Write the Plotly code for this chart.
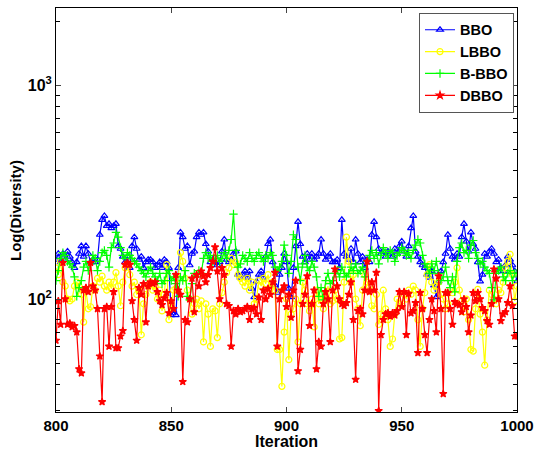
import plotly.graph_objects as go

iterations = list(range(800, 1001))

bbo = [
    153, 163, 149, 163, 153, 167, 158, 149, 140, 149,
    163, 177, 158, 177, 163, 149, 153, 149, 153, 200,
    235, 245, 220, 225, 215, 220, 225, 177, 172, 158,
    149, 158, 140, 177, 195, 172, 153, 158, 140, 149,
    153, 153, 149, 140, 144, 149, 140, 153, 149, 140,
    84, 88, 84, 140, 205, 195, 172, 177, 144, 163,
    167, 195, 205, 200, 205, 181, 167, 149, 153, 149,
    144, 149, 167, 190, 153, 149, 153, 163, 167, 130,
    126, 130, 135, 126, 135, 112, 102, 121, 130, 135,
    126, 158, 181, 190, 149, 116, 107, 130, 140, 163,
    149, 112, 102, 140, 177, 230, 181, 158, 149, 163,
    153, 163, 153, 158, 163, 190, 163, 153, 158, 163,
    149, 149, 153, 140, 235, 163, 158, 153, 172, 149,
    190, 163, 149, 158, 140, 153, 149, 200, 230, 195,
    172, 163, 167, 158, 167, 163, 158, 172, 163, 177,
    186, 167, 158, 177, 215, 245, 167, 158, 149, 144,
    140, 130, 126, 135, 116, 102, 121, 135, 149, 163,
    200, 172, 158, 153, 163, 158, 195, 225, 186, 167,
    205, 181, 172, 149, 121, 130, 163, 158, 167, 172,
    163, 149, 153, 140, 135, 144, 158, 153, 144, 135,
    121,
]

lbbo = [
    140, 130, 150, 120, 115, 100, 98, 100, 115, 120,
    115, 105, 78, 110, 90, 92, 115, 110, 125, 120,
    128, 115, 110, 120, 112, 120, 133, 115, 93, 120,
    140, 145, 130, 115, 120, 105, 110, 68, 95, 105,
    115, 120, 110, 115, 100, 110, 88, 105, 145, 80,
    95, 110, 112, 125, 165, 150, 125, 110, 100, 85,
    95, 100, 90, 98, 63, 95, 85, 60, 90, 88,
    66, 95, 107, 120, 133, 140, 155, 145, 148, 130,
    125, 120, 115, 125, 110, 120, 95, 100, 122, 115,
    125, 118, 130, 112, 120, 110, 58, 58, 39, 70,
    100, 52, 85, 90, 100, 63, 95, 120, 110, 95,
    88, 100, 74, 110, 95, 105, 90, 100, 115, 95,
    98, 110, 100, 65, 66, 120, 195, 150, 120, 130,
    100, 90, 75, 110, 130, 120, 115, 93, 90, 105,
    76, 85, 110, 90, 80, 60, 65, 85, 100, 95,
    93, 105, 100, 110, 105, 115, 110, 80, 60, 90,
    107, 130, 145, 120, 110, 115, 120, 105, 100, 90,
    95, 110, 107, 120, 140, 110, 98, 87, 100, 80,
    58, 57, 90, 111, 85, 70, 49, 80, 110, 105,
    100, 95, 110, 107, 120, 140, 150, 162, 130, 98,
    115,
]

bbbo = [
    122, 136, 155, 165, 160, 150, 146, 141, 127, 103,
    113, 122, 141, 150, 136, 146, 160, 155, 136, 150,
    165, 169, 160, 141, 174, 183, 205, 195, 174, 160,
    155, 165, 160, 155, 150, 146, 141, 136, 132, 127,
    136, 141, 132, 127, 122, 132, 118, 122, 132, 136,
    122, 127, 118, 103, 127, 122, 136, 103, 99, 118,
    132, 127, 136, 132, 155, 165, 155, 160, 150, 155,
    160, 150, 155, 165, 155, 169, 190, 250, 169, 141,
    146, 160, 155, 150, 165, 155, 150, 160, 165, 155,
    150, 160, 155, 165, 160, 141, 136, 141, 150, 179,
    160, 132, 150, 200, 190, 141, 122, 146, 160, 141,
    136, 150, 141, 127, 103, 113, 99, 122, 132, 118,
    122, 132, 136, 127, 141, 132, 127, 132, 141, 136,
    146, 132, 136, 141, 127, 150, 160, 169, 155, 165,
    146, 160, 174, 165, 155, 169, 165, 150, 160, 165,
    174, 169, 160, 165, 155, 169, 179, 190, 183, 160,
    146, 141, 132, 146, 136, 150, 132, 122, 127, 141,
    122, 113, 127, 108, 150, 174, 183, 165, 169, 155,
    179, 188, 165, 155, 146, 150, 141, 136, 132, 113,
    99, 132, 136, 141, 127, 122, 132, 136, 122, 132,
    132,
]

dbbo = [
    64, 98, 76, 148, 100, 76, 77, 74, 75, 70,
    47, 45, 110, 113, 108, 148, 115, 110, 90, 54,
    33, 90, 92, 60, 92, 108, 59, 59, 67, 71,
    145, 148, 145, 98, 80, 64, 113, 105, 118, 78,
    115, 120, 118, 120, 108, 98, 94, 101, 107, 86,
    98, 90, 130, 110, 105, 41, 80, 78, 100, 125,
    87, 130, 115, 135, 128, 120, 130, 140, 150, 175,
    135, 100, 140, 130, 95, 93, 60, 88, 85, 90,
    87, 88, 90, 92, 80, 90, 91, 85, 102, 80,
    110, 100, 112, 105, 120, 133, 60, 100, 110, 115,
    92, 105, 82, 110, 122, 46, 58, 95, 105, 128,
    75, 95, 110, 47, 63, 60, 95, 108, 100, 63,
    110, 138, 115, 100, 95, 93, 96, 105, 120, 80,
    42, 88, 90, 85, 110, 150, 108, 120, 110, 133,
    30, 68, 80, 85, 86, 83, 86, 84, 88, 108,
    92, 108, 68, 106, 86, 88, 96, 56, 107, 90,
    68, 56, 80, 100, 88, 70, 128, 90, 36, 107,
    107, 90, 76, 97, 95, 94, 87, 100, 92, 70,
    84, 107, 98, 107, 100, 91, 88, 79, 76, 95,
    138, 125, 100, 79, 85, 87, 96, 115, 93, 67,
    67,
]

series_names = ["BBO", "LBBO", "B-BBO", "DBBO"]
series_values = [bbo, lbbo, bbbo, dbbo]
series_colors = ["#0000ff", "#ffff00", "#00ff00", "#ff0000"]
series_symbols = ["triangle-up-open", "circle-open", "cross-thin-open", "star"]
series_sizes = [6, 6, 6, 5.5]

x_ticks = [800, 850, 900, 950, 1000]
y_major = [100, 1000]
y_major_text = ["10<sup>2</sup>", "10<sup>3</sup>"]
y_minor = [30, 40, 50, 60, 70, 80, 90, 200, 300, 400, 500, 600, 700, 800, 900, 2000]

FONT = "Arial, Liberation Sans, sans-serif"

fig = go.Figure()
for name, vals, col, sym, sz in zip(series_names, series_values, series_colors, series_symbols, series_sizes):
    fig.add_trace(go.Scatter(
        x=iterations[:len(vals)], y=vals, name=name, mode="lines+markers",
        line=dict(color=col, width=1.2),
        marker=dict(symbol=sym, size=sz, color=col, line=dict(color=col, width=1.2)),
    ))

fig.update_layout(
    width=535, height=450,
    margin=dict(l=56, r=18, t=8, b=38, autoexpand=False),
    paper_bgcolor="white", plot_bgcolor="white",
    font=dict(family=FONT, color="black", size=15),
    showlegend=True,
    legend=dict(
        x=0.9935, xanchor="right", y=0.988, yanchor="top",
        bordercolor="#555555", borderwidth=1, bgcolor="white",
        font=dict(family=FONT, size=14.5, color="black", weight="bold"),
        tracegroupgap=0, itemwidth=30,
    ),
    annotations=[
        dict(text="<b>Iteration</b>", x=0.5, y=-0.072, xref="paper", yref="paper",
             xanchor="center", yanchor="middle", showarrow=False,
             font=dict(family=FONT, size=16, color="black")),
        dict(text="<b>Log(Diversity)</b>", x=-0.089, y=0.5, xref="paper", yref="paper",
             xanchor="center", yanchor="middle", showarrow=False, textangle=-90,
             font=dict(family=FONT, size=15, color="black")),
    ],
)
fig.update_xaxes(
    range=[800, 1000], tickvals=x_ticks, ticks="inside", ticklen=5,
    showline=True, linecolor="black", linewidth=1, mirror="ticks",
    showgrid=False, zeroline=False, automargin=False, ticklabeloverflow="allow",
    tickfont=dict(family=FONT, size=15, color="black", weight="bold"),
)
fig.update_yaxes(
    type="log", range=[1.471, 3.363],
    tickvals=y_major, ticktext=y_major_text, ticks="inside", ticklen=5,
    minor=dict(tickvals=y_minor, ticks="inside", ticklen=4, tickcolor="black"),
    showline=True, linecolor="black", linewidth=1, mirror="ticks",
    showgrid=False, zeroline=False, automargin=False,
    tickfont=dict(family=FONT, size=16, color="black", weight="bold"),
)

fig.write_html(
    "out.html",
    config={"displayModeBar": False},
    post_script="document.body.style.margin='0';document.body.style.overflow='hidden';",
)
